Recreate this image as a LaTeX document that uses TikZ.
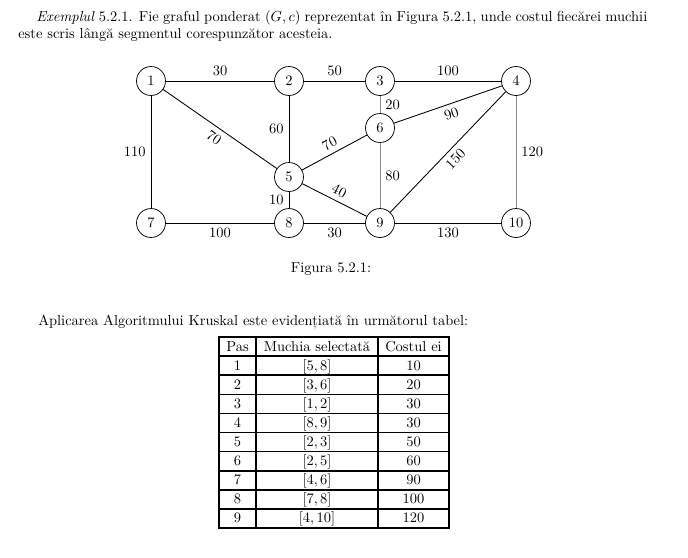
\documentclass[tikz,border=0pt]{standalone}
\usepackage{fontspec}
\begin{document}
\begin{tikzpicture}[x=0.69pt,y=-0.69pt,
  vertex/.style={draw,circle,minimum size=20pt,inner sep=0pt,line width=0.5pt},
  edge/.style={line width=0.6pt},
  lightedge/.style={line width=0.6pt,draw=black!45},
  tabrule/.style={line width=1.1pt},
  cell/.style={anchor=base,inner sep=0pt}]
\useasboundingbox (0,0) rectangle (688,557);

% intro text
\node[anchor=base west,inner sep=0pt] (intro1) at (36,21)
  {\hbox to 421.6pt{\textit{Exemplul} 5.2.1. Fie graful ponderat $(G,c)$ reprezentat în Figura 5.2.1, unde costul fiecărei muchii}};
\node[anchor=base west,inner sep=0pt] (intro2) at (18,38)
  {este scris lângă segmentul corespunzător acesteia.};

% graph
\node[vertex] (1) at (151,81) {1};
\node[vertex] (2) at (289,81) {2};
\node[vertex] (3) at (380,81) {3};
\node[vertex] (4) at (516,81) {4};
\node[vertex] (6) at (380,128) {6};
\node[vertex] (5) at (289,177) {5};
\node[vertex] (7) at (151,223) {7};
\node[vertex] (8) at (289,223) {8};
\node[vertex] (9) at (380,223) {9};
\node[vertex] (10) at (516,223) {10};

\draw[edge] (1) -- node[above] {30} (2);
\draw[edge] (2) -- node[above] {50} (3);
\draw[edge] (3) -- node[above] {100} (4);
\draw[lightedge] (3) -- node[right] {20} (6);
\draw[edge] (2) -- node[left] {60} (5);
\draw[edge] (1) -- node[left] {110} (7);
\draw[lightedge] (4) -- node[right] {120} (10);
\draw[edge] (5) -- node[left] {10} (8);
\draw[edge] (7) -- node[below] {100} (8);
\draw[edge] (8) -- node[below] {30} (9);
\draw[edge] (9) -- node[below] {130} (10);
\draw[lightedge] (6) -- node[right] {80} (9);
\draw[edge] (1) -- node[below,sloped] {70} (5);
\draw[edge] (5) -- node[above,sloped] {70} (6);
\draw[edge] (5) -- node[above,sloped] {40} (9);
\draw[edge] (6) -- node[below,sloped] {90} (4);
\draw[edge] (9) -- node[below,sloped] {150} (4);

\node[anchor=base,inner sep=0pt] (caption) at (331,272) {Figura 5.2.1:};

\node[anchor=base west,inner sep=0pt] (para) at (38,325)
  {Aplicarea Algoritmului Kruskal este evidențiată în următorul tabel:};

% table
\draw[tabrule] (219,337) rectangle (449,528);
\draw[tabrule] (256,337) -- (256,528);
\draw[tabrule] (378,337) -- (378,528);
\foreach \k in {1,...,9} {
  \draw[tabrule] (219,{337+19.1*\k}) -- (449,{337+19.1*\k});
}
\node[cell] (hpas) at (237.5,351) {Pas};
\node[cell] (hmuc) at (317,351) {Muchia selectată};
\node[cell] (hcost) at (413.5,351) {Costul ei};
\foreach \i/\e/\c in {1/{5,8}/10,2/{3,6}/20,3/{1,2}/30,4/{8,9}/30,5/{2,3}/50,6/{2,5}/60,7/{4,6}/90,8/{7,8}/100,9/{4,10}/120} {
  \node[cell] (p\i) at (237.5,{337+19.1*\i+9.55+4.5}) {\i};
  \node[cell] (m\i) at (317,{337+19.1*\i+9.55+4.5}) {$[\e]$};
  \node[cell] (c\i) at (413.5,{337+19.1*\i+9.55+4.5}) {\c};
}
\end{tikzpicture}
\end{document}
